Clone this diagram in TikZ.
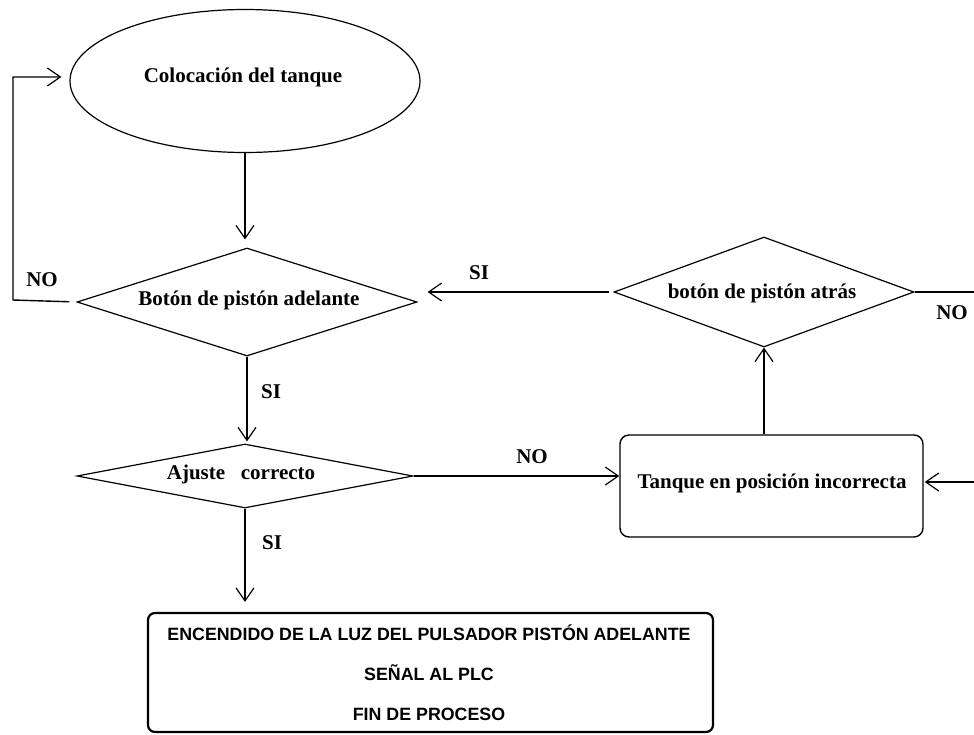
\documentclass[tikz,border=0pt]{standalone}
\usepackage{fontspec}
\setmainfont{Liberation Serif}
\newfontfamily\boxfont{Liberation Sans}
\usetikzlibrary{shapes.geometric,arrows.meta}
\begin{document}
\begin{tikzpicture}[x=1pt,y=-1pt,
  lbl/.style={font=\fontsize{21}{24}\selectfont\bfseries, inner sep=0pt},
  outline/.style={draw, line width=1.2pt, inner sep=0pt},
  decision/.style={outline, diamond},
  conn/.style={line width=1.4pt},
  arr/.style={conn, -{Straight Barb[length=13pt,width=18pt,line width=1.2pt]}},
]
\useasboundingbox[fill=white] (0,0) rectangle (974,734);

% start of the process
\node[outline, ellipse, minimum width=350pt, minimum height=143pt] (e) at (245,81) {};
\node[lbl] (te) at (243,77) {Colocación del tanque};

% decisions
\node[decision, minimum width=340pt, minimum height=108pt] (d1) at (247,302) {};
\node[lbl] (t1) at (249,300) {Botón de pistón adelante};

\node[decision, minimum width=336pt, minimum height=64pt] (d2) at (245,476) {};
\node[lbl] (t2) at (241,474) {Ajuste~~~correcto};

\node[decision, minimum width=300pt, minimum height=110pt] (d3) at (764,292) {};
\node[lbl] (t3) at (762,293) {botón de pistón atrás};

% wrong position
\node[outline, line width=1.4pt, rounded corners=9pt, minimum width=303pt, minimum height=102pt] (r) at (771.5,486) {};
\node[lbl] (tr) at (772,483) {Tanque en posición incorrecta};

% end of the process
\node[draw, line width=2.2pt, rounded corners=7pt, minimum width=565pt, minimum height=119pt, inner sep=0pt] (b) at (430.5,672.5) {};
\node[font=\boxfont\fontsize{17.8}{40}\selectfont\bfseries, align=center, inner sep=0pt] (tb) at (429,673)
  {ENCENDIDO DE LA LUZ DEL PULSADOR PISTÓN ADELANTE\\SEÑAL AL PLC\\FIN DE PROCESO};

% connectors
\coordinate (fb) at (13,300);
\coordinate (rtop) at (974,292);
\coordinate (rbot) at (974,482);

\draw[arr, shorten >=8pt] (e.south) -- (e.south |- d1.north);
\draw[arr, shorten <=7pt, shorten >=8pt] (d1.west) -- (fb) |- ([yshift=4pt]e.west);
\draw[arr, shorten >=2pt] (d1.south) -- (d1.south |- d2.north);
\draw[arr, shorten >=10pt] (d2.south) -- (d2.south |- b.north);
\draw[arr] (d2.east) -- (d2.east -| r.west);
\draw[arr] (d3.south |- r.north) -- (d3.south);
\draw[arr, shorten <=4pt, shorten >=10pt] (d3.west) -- (d3.west -| d1.east);
\draw[conn] (d3.east) -- (rtop);
\draw[arr, shorten >=1pt] (rbot) -- (rbot -| r.east);

% branch labels
\node[lbl] (no1) at (42,280) {NO};
\node[lbl] (si1) at (271,392) {SI};
\node[lbl] (si2) at (272,543) {SI};
\node[lbl] (no2) at (532,457) {NO};
\node[lbl] (si3) at (479,273) {SI};
\node[lbl] (no3) at (952,313) {NO};
\end{tikzpicture}
\end{document}
